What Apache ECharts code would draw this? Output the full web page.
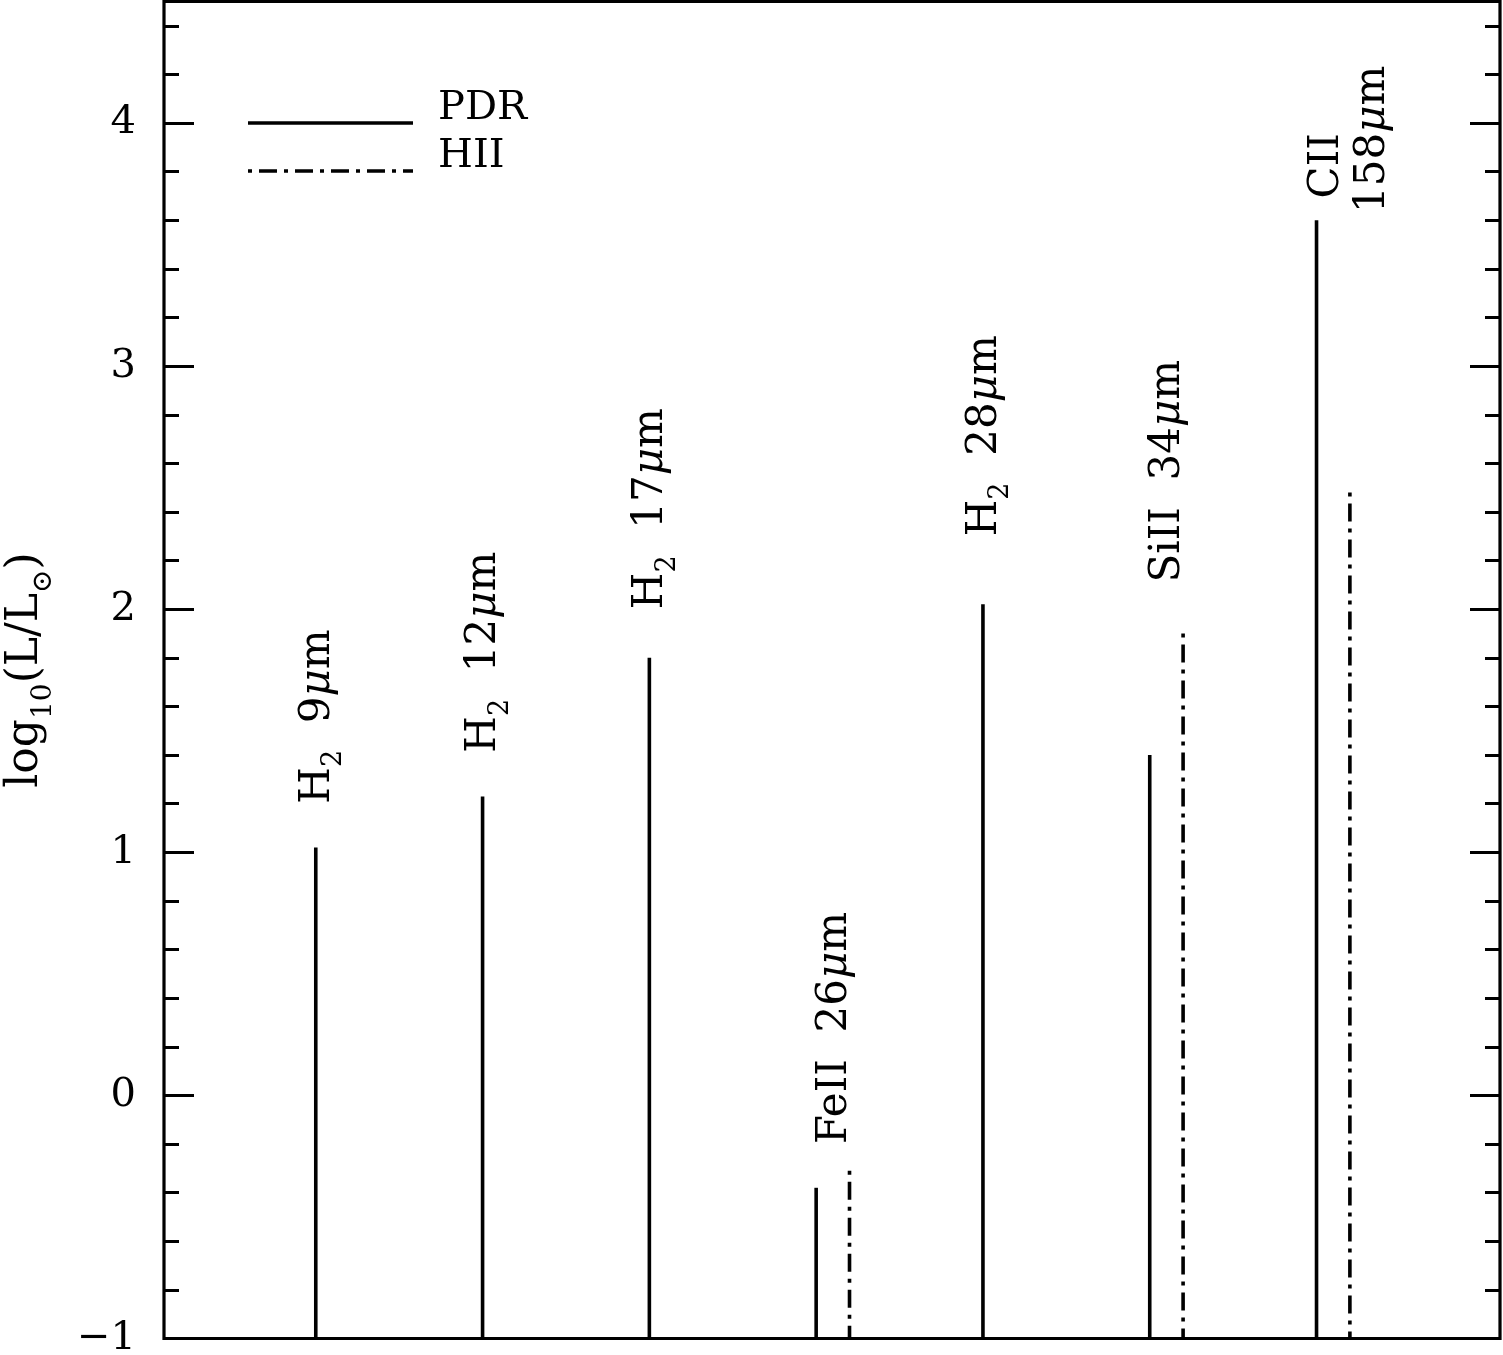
<!DOCTYPE html>
<html><head><meta charset="utf-8">
<script src="https://cdn.jsdelivr.net/npm/echarts@6/dist/echarts.min.js"></script>
<style>html,body{margin:0;padding:0;background:#fff}#c{width:1503px;height:1355px}</style>
</head><body><div id="c"></div>
<script>
// ---- data ----
const lineNames   = ['H2 9um', 'H2 12um', 'H2 17um', 'FeII 26um', 'H2 28um', 'SiII 34um', 'CII 158um'];
const pdrX        = [1, 2, 3, 4, 5, 6, 7];
const pdrValues   = [1.02, 1.23, 1.80, -0.38, 2.02, 1.40, 3.60];
const hiiX        = [4.2, 6.2, 7.2];
const hiiValues   = [-0.31, 1.90, 2.48];
const yTickValues = [-1, 0, 1, 2, 3, 4];
const labelTexts  = [
  '{t|H}{s|2}{t|  9}{i|μ}{t|m}',
  '{t|H}{s|2}{t|  12}{i|μ}{t|m}',
  '{t|H}{s|2}{t|  17}{i|μ}{t|m}',
  '{t|FeII  26}{i|μ}{t|m}',
  '{t|H}{s|2}{t|  28}{i|μ}{t|m}',
  '{t|SiII  34}{i|μ}{t|m}',
  '{t|CII}',
  '{t|158}{i|μ}{t|m}'
];
const labelX = [1, 2, 3, 4.1, 5, 6.1, 7.05, 7.33];
const labelY = [1.20, 1.41, 2.00, -0.20, 2.30, 2.11, 3.69, 3.63];
const legendNames = ['PDR', 'HII'];

// ---- chart ----
const FONT = '"DejaVu Serif", "Liberation Serif", serif';
const yMin = -1, yMax = 4.5;
const rich = {
  t: {fontFamily: FONT, fontSize: 42, color: '#000', verticalAlign: 'top'},
  i: {fontFamily: FONT, fontSize: 42, color: '#000', fontStyle: 'italic', verticalAlign: 'top'},
  s: {fontFamily: FONT, fontSize: 27, color: '#000', verticalAlign: 'top', padding: [24, 0, 0, 0]}
};

const chart = echarts.init(document.getElementById('c'), null, {renderer: 'canvas'});

function vline(dash) {
  return function (params, api) {
    const top = api.coord([api.value(0), api.value(1)]);
    const bot = api.coord([api.value(0), yMin]);
    return {type: 'line', shape: {x1: top[0], y1: top[1], x2: bot[0], y2: bot[1]},
      style: {stroke: '#000', lineWidth: 3.6, lineDash: dash, lineCap: 'butt'}};
  };
}

const majorAxis = (pos) => ({
  type: 'value', position: pos, min: yMin, max: yMax, interval: 1,
  axisLine: {show: false},
  axisTick: {show: true, inside: true, length: 30, lineStyle: {color: '#000', width: 3}},
  axisLabel: pos === 'left' ? {
    show: true, margin: 28, fontFamily: FONT, fontSize: 40, color: '#000',
    formatter: v => yTickValues.indexOf(v) >= 0 ? (v < 0 ? '\u2212' + Math.abs(v) : String(v)) : ''
  } : {show: false},
  splitLine: {show: false}
});
const minorAxis = (pos) => ({
  type: 'value', position: pos, min: yMin, max: yMax, interval: 0.2,
  axisLine: {show: false},
  axisTick: {show: true, inside: true, length: 15, lineStyle: {color: '#000', width: 3}},
  axisLabel: {show: false}, splitLine: {show: false}
});

const yAxes = [majorAxis('left'), minorAxis('left'), majorAxis('right'), minorAxis('right')];
yAxes[0].name = '{a|log}{s|10}{a|(L/L}{s|⊙}{a|)}';
yAxes[0].nameLocation = 'middle';
yAxes[0].nameRotate = 90;
yAxes[0].nameGap = 160;
yAxes[0].nameTextStyle = {
  align: 'center', verticalAlign: 'top',
  rich: {
    a: {fontFamily: FONT, fontSize: 44, color: '#000', verticalAlign: 'top'},
    s: {fontFamily: FONT, fontSize: 28, color: '#000', verticalAlign: 'top', padding: [26, 0, 0, 0]}
  }
};

const option = {
  backgroundColor: '#fff',
  animation: false,
  grid: {left: 164, right: 3, top: 1.5, bottom: 16.5, show: true, borderColor: '#000', borderWidth: 3.2,
         containLabel: false, outerBoundsMode: 'none'},
  xAxis: {type: 'value', min: 0.09, max: 8.1, show: false},
  yAxis: yAxes,
  graphic: [
    {type: 'line', shape: {x1: 248, y1: 123, x2: 413, y2: 123}, style: {stroke: '#000', lineWidth: 3.6}},
    {type: 'line', shape: {x1: 248, y1: 171, x2: 413, y2: 171}, style: {stroke: '#000', lineWidth: 3.6, lineDash: [4, 7, 18, 7]}},
    {type: 'text', x: 438, y: 109, style: {text: legendNames[0], font: '40px ' + FONT, fill: '#000', textAlign: 'left', textVerticalAlign: 'middle'}},
    {type: 'text', x: 438, y: 157, style: {text: legendNames[1], font: '40px ' + FONT, fill: '#000', textAlign: 'left', textVerticalAlign: 'middle'}}
  ],
  series: [
    {type: 'custom', name: 'PDR', renderItem: vline(null), data: pdrX.map((x, i) => [x, pdrValues[i]])},
    {type: 'custom', name: 'HII', renderItem: vline([4, 7, 18, 7]), data: hiiX.map((x, i) => [x, hiiValues[i]])},
    {type: 'custom', name: 'labels', data: labelX.map((x, i) => [x, labelY[i]]),
      renderItem: function (params, api) {
        const p = api.coord([api.value(0), api.value(1)]);
        return {type: 'text', x: p[0] - 19, y: p[1], rotation: Math.PI / 2,
          style: {text: labelTexts[params.dataIndex], rich: rich, align: 'left', verticalAlign: 'top'}};
      }}
  ]
};
chart.setOption(option);
</script>
</body></html>
